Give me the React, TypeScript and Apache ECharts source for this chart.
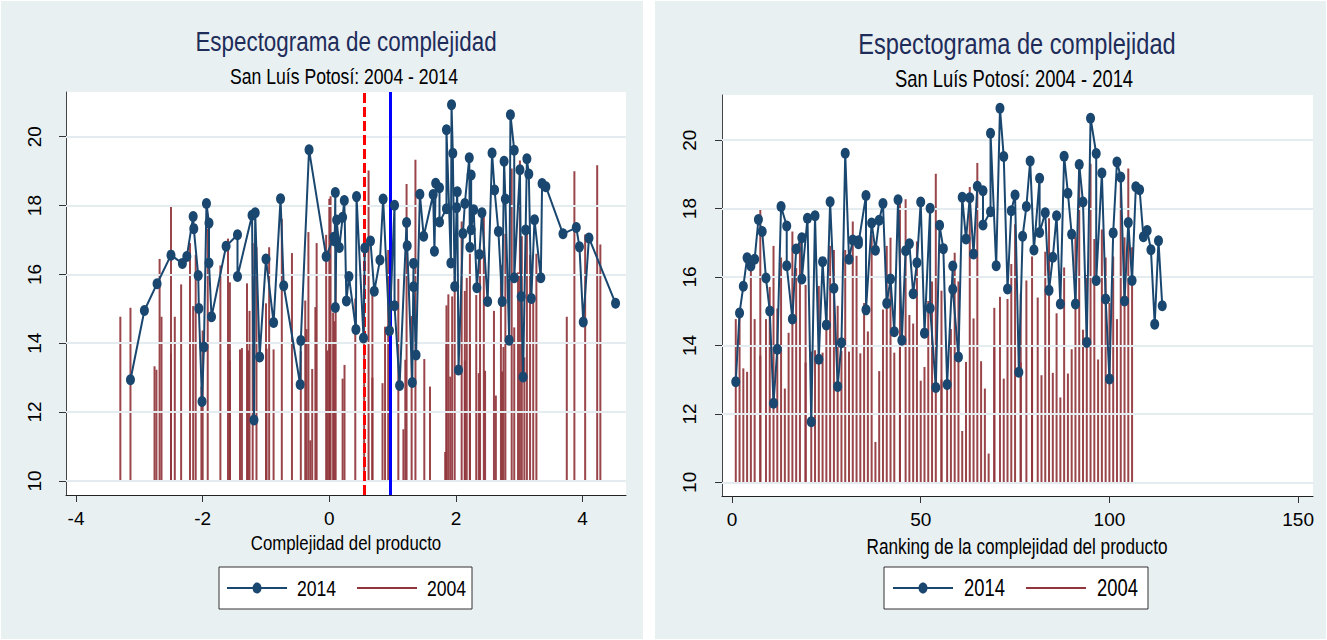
import { useEffect, useRef } from 'react';
import * as echarts from 'echarts';

const FONT = '"Liberation Sans", Arial, sans-serif';
const NAVY = '#1a476f';
const MAROON = '#90353b';
const GRID_LINE = '#e4ecef';
const PANEL_BG = '#e9f0f2';
const NARROW = 0.8;

const titleText = 'Espectograma de complejidad';
const subtitleText = 'San Luís Potosí: 2004 - 2014';
const xNameLeft = 'Complejidad del producto';
const xNameRight = 'Ranking de la complejidad del producto';
const legendNames = ['2014', '2004'];

const yTicks = [10, 12, 14, 16, 18, 20];
const xTicksComplexity = [-4, -2, 0, 2, 4];
const xTicksRanking = [0, 50, 100, 150];

// reference lines on the complexity axis
const refDashed = 0.55;
const refSolid = 0.96;

// 2014: value, complexity, ranking (ties share an averaged rank)
const val2014 = [
  12.94, 14.95, 15.73, 16.56, 16.32, 16.52, 17.68, 17.33, 15.97, 15.01,
  12.31, 13.89, 18.06, 17.49, 16.33, 14.77, 16.82, 17.15, 15.94, 17.72,
  11.77, 17.79, 13.6, 16.45, 14.6, 18.2, 15.67, 12.8, 14.08, 19.62,
  16.52, 17.08, 17.06, 16.97, 18.38, 15.04, 17.58, 16.78, 17.66, 18.15,
  15.23, 15.94, 14.4, 18.26, 14.15, 16.77, 16.97, 15.51, 16.42, 18.19,
  14.36, 18.01, 15.09, 12.77, 17.51, 16.83, 12.86, 16.32, 15.64, 13.66,
  18.33, 17.11, 18.32, 16.67, 18.65, 18.52, 17.52, 17.91, 20.2, 16.33,
  20.93, 19.52, 15.65, 17.94, 18.4, 13.22, 17.19, 18.06, 19.39, 16.79,
  18.89, 17.3, 17.88, 15.61, 16.58, 17.79, 15.21, 19.53, 18.45, 17.25,
  15.21, 19.29, 18.19, 14.09, 20.64, 19.61, 15.9, 19.04, 15.36, 13.02,
  17.29, 19.36, 18.92, 15.3, 17.59, 15.9, 18.64, 18.55, 17.18, 17.36,
  16.8, 14.62, 17.06, 15.16,
];
const cx2014 = [
  -3.14, -2.92, -2.72, -2.5, -2.32, -2.25, -2.15, -2.14, -2.07, -2.06,
  -2.01, -1.98, -1.94, -1.9, -1.9, -1.86, -1.63, -1.45, -1.45, -1.22,
  -1.19, -1.17, -1.1, -1.0, -0.88, -0.77, -0.72, -0.46, -0.45, -0.32,
  -0.05, 0.07, 0.085, 0.085, 0.095, 0.095, 0.116, 0.158, 0.21, 0.237,
  0.27, 0.31, 0.42, 0.43, 0.54, 0.56, 0.65, 0.71, 0.8, 0.85,
  0.95, 1.03, 1.03, 1.11, 1.22, 1.23, 1.31, 1.33, 1.33, 1.37,
  1.43, 1.49, 1.64, 1.66, 1.68, 1.74, 1.74, 1.85, 1.85, 1.92,
  1.93, 1.95, 1.98, 2.01, 2.02, 2.04, 2.11, 2.14, 2.21, 2.22,
  2.24, 2.24, 2.28, 2.33, 2.37, 2.41, 2.5, 2.57, 2.61, 2.67,
  2.73, 2.76, 2.78, 2.84, 2.86, 2.92, 2.92, 3.01, 3.03, 3.06,
  3.1, 3.12, 3.15, 3.19, 3.24, 3.34, 3.36, 3.42, 3.69, 3.9,
  3.95, 4.01, 4.1, 4.52,
];
const rank2014 = [
  1, 2, 3, 4, 5, 6, 7, 8, 9, 10, 11, 12, 13, 14.5, 14.5, 16, 17, 18.5, 18.5, 20,
  21, 22, 23, 24, 25, 26, 27, 28, 29, 30, 31, 32, 33.5, 33.5, 35.5, 35.5, 37, 38, 39, 40,
  41, 42, 43, 44, 45, 46, 47, 48, 49, 50, 51, 52.5, 52.5, 54, 55, 56, 57, 58.5, 58.5, 60,
  61, 62, 63, 64, 65, 66.5, 66.5, 68.5, 68.5, 70, 71, 72, 73, 74, 75, 76, 77, 78, 79, 80,
  81.5, 81.5, 83, 84, 85, 86, 87, 88, 89, 90, 91, 92, 93, 94, 95, 96.5, 96.5, 98, 99, 100,
  101, 102, 103, 104, 105, 106, 107, 108, 109, 110, 111, 112, 113, 114,
];

// 2004: value, complexity, ranking
const val2004 = [
  14.77, 15.03, 13.33, 13.23, 16.45, 14.77, 18.01, 13.7, 14.77, 15.71,
  16.91, 15.08, 16.57, 12.74, 14.37, 17.33, 16.26, 17.04, 15.77, 13.5,
  13.82, 13.86, 15.74, 13.79, 14.94, 16.91, 16.79, 15.16, 13.84, 16.79,
  13.82, 17.62, 16.62, 13.77, 15.24, 14.41, 17.23, 11.18, 13.25, 15.05,
  16.91, 17.15, 13.79, 18.2, 14.06, 18.27, 14.89, 14.64, 17.04, 12.97,
  13.37, 15.3, 15.87, 19.02, 15.6, 13.0, 12.84, 14.48, 16.71, 15.87,
  11.5, 13.52, 18.63, 14.79, 19.33, 13.54, 12.74, 10.84, 15.1, 14.0,
  15.42, 13.03, 15.36, 16.38, 17.54, 15.52, 13.5, 15.9, 16.6, 14.0,
  15.4, 13.13, 16.74, 17.72, 13.2, 14.94, 12.48, 16.28, 13.18, 13.89,
  17.18, 19.08, 14.46, 16.06, 19.31, 17.11, 13.59, 17.39, 16.57, 15.24,
  16.6, 14.77, 19.0, 17.16, 19.17, 16.87,
];
const cx2004 = [
  -3.3, -3.14, -2.76, -2.73, -2.68, -2.65, -2.5, -2.5, -2.44, -2.34,
  -2.2, -2.15, -2.11, -2.02, -2.0, -1.92, -1.72, -1.6, -1.57, -1.57,
  -1.41, -1.38, -1.3, -1.28, -1.26, -1.21, -1.15, -1.0, -0.99, -0.95,
  -0.88, -0.75, -0.59, -0.45, -0.38, -0.36, -0.33, -0.3, -0.27, -0.22,
  -0.2, -0.05, -0.03, 0.0, 0.0, 0.02, 0.06, 0.08, 0.1, 0.21,
  0.24, 0.41, 0.55, 0.62, 0.68, 0.68, 0.84, 0.88, 0.93, 1.09,
  1.17, 1.2, 1.22, 1.3, 1.36, 1.5, 1.59, 1.83, 1.85, 1.85,
  1.88, 1.91, 1.94, 1.98, 2.09, 2.14, 2.14, 2.17, 2.22, 2.22,
  2.32, 2.36, 2.38, 2.44, 2.46, 2.6, 2.63, 2.71, 2.73, 2.75,
  2.78, 2.88, 2.92, 2.98, 3.01, 3.04, 3.08, 3.12, 3.17, 3.22,
  3.27, 3.75, 3.87, 4.04, 4.23, 4.28,
];
const rank2004 = [
  1, 2, 3, 4, 5, 6, 7.5, 7.5, 9, 10,
  11, 12, 13, 14, 15, 16, 17, 18, 19.5, 19.5,
  21, 22, 23, 24, 25, 26, 27, 28, 29, 30,
  31, 32, 33, 34, 35, 36, 37, 38, 39, 40,
  41, 42, 43, 44.5, 44.5, 46, 47, 48, 49, 50,
  51, 52, 53, 54, 55.5, 55.5, 57, 58, 59, 60,
  61, 62, 63, 64, 65, 66, 67, 68, 69.5, 69.5,
  71, 72, 73, 74, 75, 76.5, 76.5, 78, 79.5, 79.5,
  81, 82, 83, 84, 85, 86, 87, 88, 89, 90,
  91, 92, 93, 94, 95, 96, 97, 98, 99, 100,
  101, 102, 103, 104, 105, 106,
];

const SPIKE_BASE = 10;

function pairs(xs: number[], ys: number[]) {
  return xs.map((x, i) => [x, ys[i]]);
}

function spikeSeries(idx: number, data: number[][]) {
  return {
    type: 'custom',
    name: legendNames[1],
    xAxisIndex: idx,
    yAxisIndex: idx,
    z: 2,
    clip: true,
    silent: true,
    data,
    renderItem: (_p: any, api: any) => {
      const b = api.coord([api.value(0), SPIKE_BASE]);
      const t = api.coord([api.value(0), api.value(1)]);
      return {
        type: 'line',
        shape: { x1: b[0], y1: b[1], x2: t[0], y2: t[1] },
        style: { stroke: MAROON, lineWidth: 2, opacity: 0.92 },
      };
    },
  };
}

function lineSeries(idx: number, data: number[][]) {
  return {
    type: 'line',
    name: legendNames[0],
    xAxisIndex: idx,
    yAxisIndex: idx,
    z: 5,
    data,
    symbol: 'circle',
    symbolSize: [9, 11],
    showSymbol: true,
    lineStyle: { color: NAVY, width: 2 },
    itemStyle: { color: NAVY },
    silent: true,
  };
}

function gridLineSeries(idx: number) {
  return {
    type: 'line',
    xAxisIndex: idx,
    yAxisIndex: idx,
    z: 1,
    data: [],
    silent: true,
    markLine: {
      silent: true,
      symbol: 'none',
      label: { show: false },
      animation: false,
      lineStyle: { color: GRID_LINE, width: 2, type: 'solid' },
      data: yTicks.map((v) => ({ yAxis: v })),
    },
  };
}

function xAxisCfg(idx: number, min: number, max: number, ticks: number[]) {
  return {
    type: 'value',
    gridIndex: idx,
    min,
    max,
    axisLine: { show: true, onZero: false, lineStyle: { color: '#222', width: 1 } },
    axisTick: { show: true, customValues: ticks, length: 7, lineStyle: { color: '#333' } },
    axisLabel: { show: true, customValues: ticks, fontFamily: FONT, fontSize: 19, color: '#000', margin: 14 },
    splitLine: { show: false },
  };
}

function yAxisCfg(idx: number, min: number, max: number, margin: number) {
  return {
    type: 'value',
    gridIndex: idx,
    min,
    max,
    axisLine: { show: true, onZero: false, lineStyle: { color: '#444', width: 1 } },
    axisTick: { show: true, customValues: yTicks, length: 7, lineStyle: { color: '#333' } },
    axisLabel: { show: true, customValues: yTicks, rotate: 90, fontFamily: FONT, fontSize: 19, color: '#000', margin },
    splitLine: { show: false },
  };
}

function textEl(text: string, x: number, y: number, size: number, color: string, align = 'center') {
  return {
    type: 'text',
    x,
    y,
    scaleX: NARROW,
    z: 12,
    style: {
      text,
      fill: color,
      fontFamily: FONT,
      fontSize: size,
      textAlign: align,
      textVerticalAlign: 'middle',
      align,
      verticalAlign: 'middle',
    },
  };
}

function legendEls(bx: number, by: number, bw: number, bh: number, l1: number, t1: number, l2: number, t2: number, fs: number) {
  const cy = by + bh / 2;
  return [
    { type: 'rect', z: 10, shape: { x: bx, y: by, width: bw, height: bh }, style: { fill: '#fff', stroke: '#333', lineWidth: 1 } },
    { type: 'line', z: 11, shape: { x1: l1, y1: cy, x2: l1 + 60, y2: cy }, style: { stroke: NAVY, lineWidth: 2 } },
    { type: 'ellipse', z: 12, shape: { cx: l1 + 30, cy, rx: 4.5, ry: 5.5 }, style: { fill: NAVY } },
    textEl(legendNames[0], t1, cy, fs, '#000', 'left'),
    { type: 'line', z: 11, shape: { x1: l2, y1: cy, x2: l2 + 60, y2: cy }, style: { stroke: MAROON, lineWidth: 2 } },
    textEl(legendNames[1], t2, cy, fs, '#000', 'left'),
  ];
}

export default function App() {
  const ref = useRef<HTMLDivElement>(null);
  useEffect(() => {
    if (!ref.current) return;
    const chart = echarts.init(ref.current, null, { renderer: 'svg' });
    const option: any = {
      animation: false,
      backgroundColor: '#ffffff',
      grid: [
        { left: 66, top: 92, width: 560, height: 403, show: true, backgroundColor: '#ffffff', borderWidth: 0, containLabel: false },
        { left: 722, top: 95, width: 591, height: 401, show: true, backgroundColor: '#ffffff', borderWidth: 0, containLabel: false },
      ],
      xAxis: [
        xAxisCfg(0, -4.158, 4.685, xTicksComplexity),
        xAxisCfg(1, -2.65, 153.94, xTicksRanking),
      ],
      yAxis: [yAxisCfg(0, 9.59, 21.3, 22), yAxisCfg(1, 9.6, 21.32, 23)],
      graphic: [
        { type: 'rect', z: -10, shape: { x: 1, y: 1, width: 642, height: 638 }, style: { fill: PANEL_BG } },
        { type: 'rect', z: -10, shape: { x: 655, y: 1, width: 671, height: 638 }, style: { fill: PANEL_BG } },
        textEl(titleText, 346, 41, 28, '#1e2c5a'),
        textEl(subtitleText, 344, 76, 22, '#000'),
        textEl(titleText, 1017, 44, 29.5, '#1e2c5a'),
        textEl(subtitleText, 1014, 79, 23, '#000'),
        textEl(xNameLeft, 346, 543, 21, '#000'),
        textEl(xNameRight, 1017, 546, 21.5, '#000'),
        ...legendEls(219, 567, 253, 42, 227, 297, 357, 427, 22),
        ...legendEls(884, 567, 264, 42, 893, 964, 1026, 1097, 23),
      ],
      series: [
        gridLineSeries(0),
        gridLineSeries(1),
        spikeSeries(0, pairs(cx2004, val2004)),
        spikeSeries(1, pairs(rank2004, val2004)),
        {
          type: 'line',
          xAxisIndex: 0,
          yAxisIndex: 0,
          z: 3,
          data: [],
          silent: true,
          markLine: {
            silent: true,
            symbol: 'none',
            label: { show: false },
            data: [
              { xAxis: refDashed, lineStyle: { color: '#ff0000', width: 3, type: [10, 4] } },
              { xAxis: refSolid, lineStyle: { color: '#0000ff', width: 3, type: 'solid' } },
            ],
          },
        },
        lineSeries(0, pairs(cx2014, val2014)),
        lineSeries(1, pairs(rank2014, val2014)),
      ],
    };
    chart.setOption(option);
    return () => chart.dispose();
  }, []);
  return (
    <div
      ref={ref}
      style={{ position: 'fixed', left: 0, top: 0, width: 1327, height: 640, background: '#fff' }}
    />
  );
}
